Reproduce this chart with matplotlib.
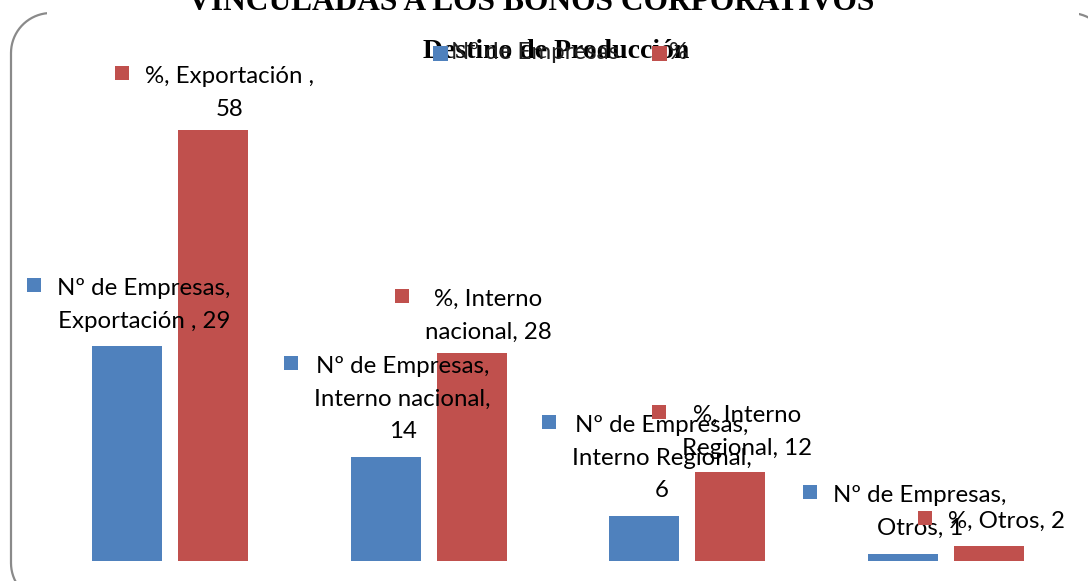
import textwrap
import matplotlib
matplotlib.use("Agg")
import matplotlib.pyplot as plt
from matplotlib.patches import Rectangle, PathPatch
from matplotlib.path import Path
from matplotlib.transforms import IdentityTransform
import numpy as np

# ---------------- data ----------------
categories = ["Exportación ", "Interno nacional", "Interno Regional", "Otros"]
series_names = ["Nº de Empresas", "%"]
empresas = [29, 14, 6, 1]
porcentaje = [58, 28, 12, 2]
title = "VINCULADAS A LOS BONOS CORPORATIVOS"
subtitle = "Destino de Producción"

# ---------------- style ----------------
BLUE = "#4F81BD"
RED = "#C0504D"
LABEL_FONT = ["Lato", "DejaVu Sans"]
SERIF = ["Liberation Serif", "DejaVu Serif"]
FS = 17.3
LINE_PX = 32.5

# label first-line baseline offset above bar top (px), per series/category
dy_empresas = [50.5, 84, 84.4, 51.6]
dy_pct = [47, 47, 49.8, 18]
wrap_width = [17, 16]

W, H, DPI = 1088, 581, 100
fig = plt.figure(figsize=(W / DPI, H / DPI), dpi=DPI)
fig.patch.set_facecolor("white")

ax = fig.add_axes([40.5 / W, 20 / H, 1035 / W, 520 / H])
ax.set_xlim(-0.5, len(categories) - 0.5)
ax.set_ylim(0, 70)
ax.axis("off")

x = np.arange(len(categories))
bw = 0.27
off = 0.166
ax.bar(x - off, empresas, bw, color=BLUE, zorder=2)
ax.bar(x + off, porcentaje, bw, color=RED, zorder=2)

# ---------------- data labels ----------------
label_items = []
for s_idx, (vals, dys, col) in enumerate(
    [(empresas, dy_empresas, BLUE), (porcentaje, dy_pct, RED)]
):
    for i, v in enumerate(vals):
        xb = x[i] + (-off if s_idx == 0 else off)
        full = f"{series_names[s_idx]}, {categories[i]}, {v}"
        lines = textwrap.wrap(full, wrap_width[s_idx])
        texts = []
        for li, line in enumerate(lines):
            t = ax.annotate(
                line,
                xy=(xb, v),
                xytext=(17 * 0.72, (dys[i] - li * LINE_PX) * 0.72),
                textcoords="offset points",
                ha="center",
                va="baseline",
                fontsize=FS,
                family=LABEL_FONT,
                color="black",
                zorder=5,
                annotation_clip=False,
            )
            texts.append(t)
        label_items.append((texts, col, xb, v, dys[i]))

# ---------------- title / subtitle / legend ----------------
fig.text(531 / W, 1 - 10 / H, title, ha="center", va="baseline",
         family=SERIF, weight="bold", fontsize=22.7, color="black", zorder=6)
fig.text(556 / W, 1 - 58 / H, subtitle, ha="center", va="baseline",
         family=SERIF, weight="bold", fontsize=20, color="black", zorder=6)

leg_y = 1 - 59 / H
fig.patches.append(Rectangle((433, H - 61), 15, 15, transform=IdentityTransform(),
                             facecolor=BLUE, edgecolor="none", zorder=7))
fig.text(451 / W, leg_y, series_names[0], ha="left", va="baseline",
         family=LABEL_FONT, fontsize=FS, color="#222222", zorder=6)
fig.patches.append(Rectangle((652, H - 61), 15, 15, transform=IdentityTransform(),
                             facecolor=RED, edgecolor="none", zorder=7))
fig.text(669 / W, leg_y, series_names[1], ha="left", va="baseline",
         family=LABEL_FONT, fontsize=FS, color="#222222", zorder=6)

# rounded chart border (partly outside the image), display pixels
bx0, by0, bx1, by1, r = 11, H - 603, 1110, H - 13, 40
def corner(cx, cy, a0, a1):
    a = np.linspace(np.radians(a0), np.radians(a1), 20)
    return list(zip(cx + r * np.cos(a), cy + r * np.sin(a)))
verts = []
verts += corner(bx1 - r, by0 + r, -90, 0)
verts += corner(bx1 - r, by1 - r, 0, 90)
verts += corner(bx0 + r, by1 - r, 90, 180)
verts += corner(bx0 + r, by0 + r, 180, 270)
verts.append(verts[0])
border = PathPatch(Path(verts), transform=IdentityTransform(), facecolor="none",
                   edgecolor="#8a8a8a", linewidth=1.6, zorder=1)
fig.patches.append(border)
cover = Rectangle((47, H - 22), 1032, 30, transform=IdentityTransform(),
                  facecolor="white", edgecolor="none", zorder=2)
fig.patches.append(cover)

# legend keys for data labels: placed left of the widest line
fig.canvas.draw()
renderer = fig.canvas.get_renderer()
for texts, col, xb, v, dy in label_items:
    exts = [t.get_window_extent(renderer) for t in texts]
    left = min(e.x0 for e in exts)
    _, top_y = ax.transData.transform((xb, v))
    base_y = top_y + dy
    sq = 14
    fig.patches.append(Rectangle((left - 30, base_y + 10 - sq / 2), sq, sq,
                                 transform=IdentityTransform(), facecolor=col,
                                 edgecolor="none", zorder=7))

fig.savefig("out.png", dpi=DPI)
